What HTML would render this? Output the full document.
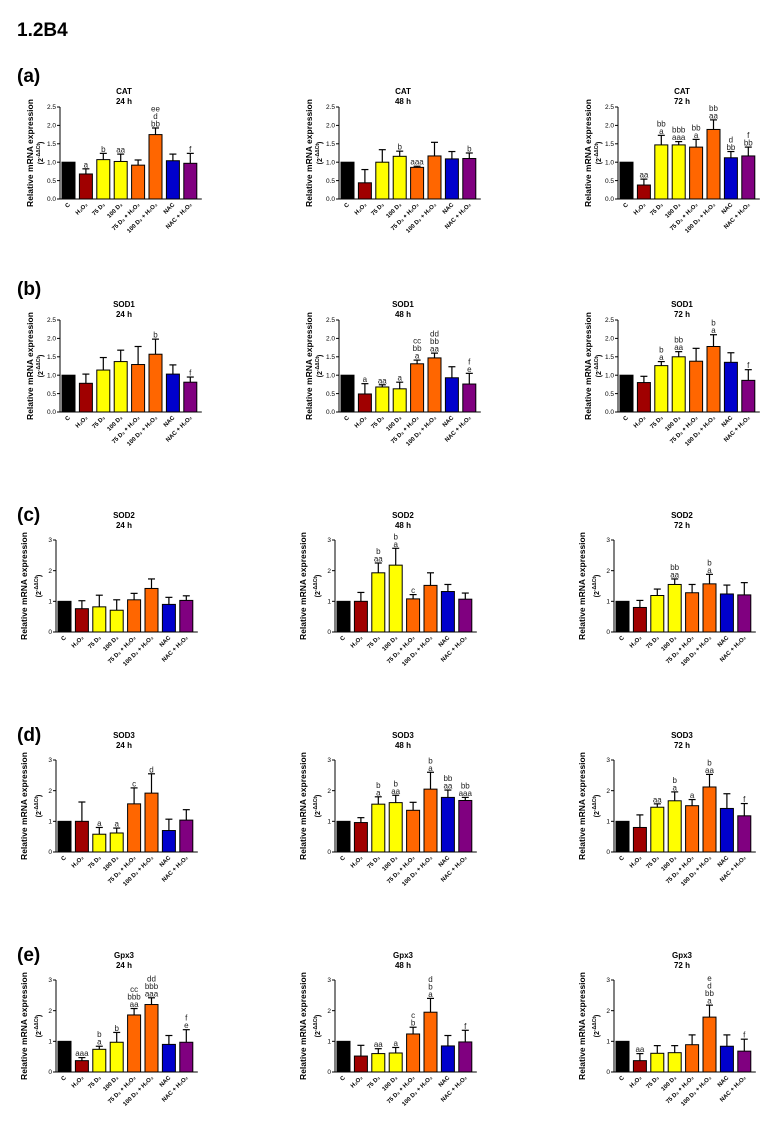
<!DOCTYPE html>
<html><head><meta charset="utf-8">
<style>
html,body{margin:0;padding:0;background:#fff;}
svg{display:block;font-family:"Liberation Sans",Arial,sans-serif;}
</style></head>
<body>
<svg id="fig" width="773" height="1137" viewBox="0 0 773 1137">
<text x="17" y="36" font-size="19" font-weight="bold">1.2B4</text>
</svg>
<script>
const groups = ["C","H₂O₂","75 D₃","100 D₃","75 D₃ + H₂O₂","100 D₃ + H₂O₂","NAC","NAC + H₂O₂"];
const colors = ["#000000","#a00000","#ffff00","#ffff00","#ff6600","#ff6600","#0000cc","#800080"];
const genes = ["CAT","SOD1","SOD2","SOD3","Gpx3"];
const times = ["24 h","48 h","72 h"];
const rowLetters = ["(a)","(b)","(c)","(d)","(e)"];
const ticks25 = ["0.0","0.5","1.0","1.5","2.0","2.5"];
const ticks3 = ["0","1","2","3"];
const vals_a24 = [1,0.68,1.07,1.02,0.92,1.75,1.04,0.97];
const err_a24 = [0,0.82,1.24,1.22,1.06,1.93,1.22,1.24];
const sig_a24 = ["","a","b","aa","","ee|d|bb","","f"];
const vals_a48 = [1,0.44,1,1.16,0.86,1.17,1.09,1.1];
const err_a48 = [0,0.8,1.34,1.3,0.89,1.54,1.29,1.25];
const sig_a48 = ["","","","b","aaa","","","b"];
const vals_a72 = [1,0.38,1.47,1.47,1.41,1.89,1.12,1.17];
const err_a72 = [0,0.54,1.73,1.56,1.62,2.15,1.29,1.41];
const sig_a72 = ["","aa","bb|a","bbb|aaa","bb|a","bb|aa","d|bb","f|bb"];
const vals_b24 = [1,0.78,1.14,1.37,1.29,1.57,1.03,0.81];
const err_b24 = [0,1.03,1.48,1.68,1.78,1.98,1.28,0.95];
const sig_b24 = ["","","","","","b","","f"];
const vals_b48 = [1,0.49,0.68,0.63,1.31,1.47,0.93,0.76];
const err_b48 = [0,0.77,0.74,0.81,1.41,1.6,1.23,1.05];
const sig_b48 = ["","a","aa","a","cc|bb|a","dd|bb|aa","","f|e"];
const vals_b72 = [1,0.8,1.26,1.5,1.38,1.78,1.35,0.86];
const err_b72 = [0,0.97,1.37,1.64,1.73,2.1,1.61,1.15];
const sig_b72 = ["","","b|a","bb|aa","","b|a","","f"];
const vals_c24 = [1,0.76,0.82,0.71,1.05,1.42,0.9,1.03];
const err_c24 = [0,1.02,1.2,1.05,1.26,1.73,1.13,1.18];
const sig_c24 = ["","","","","","","",""];
const vals_c48 = [1,1,1.93,2.18,1.08,1.52,1.32,1.07];
const err_c48 = [0,1.29,2.25,2.73,1.22,1.93,1.55,1.27];
const sig_c48 = ["","","b|aa","b|a","c","","",""];
const vals_c72 = [1,0.8,1.19,1.55,1.28,1.57,1.24,1.21];
const err_c72 = [0,1.03,1.4,1.73,1.55,1.88,1.53,1.61];
const sig_c72 = ["","","","bb|aa","","b|a","",""];
const vals_d24 = [1,1,0.58,0.62,1.57,1.92,0.7,1.04];
const err_d24 = [0,1.63,0.8,0.78,2.09,2.55,1.07,1.38];
const sig_d24 = ["","","a","a","c","d","",""];
const vals_d48 = [1,0.96,1.56,1.61,1.36,2.05,1.78,1.68];
const err_d48 = [0,1.12,1.8,1.85,1.62,2.6,2.02,1.78];
const sig_d48 = ["","","b|a","b|aa","","b|a","bb|aa","bb|aaa"];
const vals_d72 = [1,0.8,1.46,1.67,1.51,2.12,1.42,1.18];
const err_d72 = [0,1.21,1.57,1.96,1.71,2.53,1.9,1.58];
const sig_d72 = ["","","aa","b|a","a","b|aa","","f"];
const vals_e24 = [1,0.37,0.74,0.97,1.86,2.2,0.9,0.97];
const err_e24 = [0,0.47,0.84,1.29,2.07,2.42,1.19,1.38];
const sig_e24 = ["","aaa","b|a","b","cc|bbb|aa","dd|bbb|aaa","","f|e"];
const vals_e48 = [1,0.52,0.6,0.62,1.24,1.95,0.85,0.98];
const err_e48 = [0,0.87,0.76,0.8,1.46,2.4,1.19,1.36];
const sig_e48 = ["","","aa","a","c|b","d|b|a","","f"];
const vals_e72 = [1,0.37,0.61,0.63,0.89,1.79,0.84,0.68];
const err_e72 = [0,0.6,0.86,0.86,1.21,2.18,1.21,1.07];
const sig_e72 = ["","aa","","","","e|d|bb|a","","f"];

const panels = [
 [[vals_a24,err_a24,sig_a24],[vals_a48,err_a48,sig_a48],[vals_a72,err_a72,sig_a72]],
 [[vals_b24,err_b24,sig_b24],[vals_b48,err_b48,sig_b48],[vals_b72,err_b72,sig_b72]],
 [[vals_c24,err_c24,sig_c24],[vals_c48,err_c48,sig_c48],[vals_c72,err_c72,sig_c72]],
 [[vals_d24,err_d24,sig_d24],[vals_d48,err_d48,sig_d48],[vals_d72,err_d72,sig_d72]],
 [[vals_e24,err_e24,sig_e24],[vals_e48,err_e48,sig_e48],[vals_e72,err_e72,sig_e72]]
];

const NS = "http://www.w3.org/2000/svg";
const svg = document.getElementById("fig");
function mk(tag, attrs, parent, text){
  const e = document.createElementNS(NS, tag);
  for (const k in attrs) e.setAttribute(k, attrs[k]);
  if (text !== undefined) e.textContent = text;
  (parent||svg).appendChild(e);
  return e;
}
const colOff = [0,279,558];
const rowZero = [199,412,632,852,1072];

for (let r=0; r<5; r++){
  const letter = mk("text",{x:17,y:rowZero[r]-(r<2?117:111),"font-size":19,"font-weight":"bold"},svg,rowLetters[r]);
  
  
  for (let c=0; c<3; c++){
    const [vals, errs, sigs] = panels[r][c];
    const is25 = r<2;
    const ymax = is25 ? 2.5 : 3;
    const tks = is25 ? ticks25 : ticks3;
    const ox = colOff[c];
    const zero = rowZero[r];
    const H = 92;
    const top = zero - H;
    const axisX = ox + (is25 ? 60 : 56);
    const barStart = ox + (is25 ? 62 : 58);
    const bw = 13, pitch = 17.4;
    const yS = v => zero - v/ymax*H;
    const xS = i => barStart + i*pitch;
    const g = mk("g",{});
    
    
    const cx = ox + 124;
    const t1 = mk("text",{x:cx,y:top-(is25?13:22),"font-size":8,"font-weight":"bold","text-anchor":"middle"},g,genes[r]);
    
    
    const t2 = mk("text",{x:cx,y:top-(is25?3:12),"font-size":8,"font-weight":"bold","text-anchor":"middle"},g,times[c]);
    
    
    const lx = axisX - (is25?27:29), ly = zero - H/2;
    const yl = mk("text",{x:lx,y:ly,"font-size":8.5,"font-weight":"bold","text-anchor":"middle",transform:`rotate(-90 ${lx} ${ly})`},g,"Relative mRNA expression");
    
    
    const lx2 = lx + (is25?10:14);
    const yl2 = mk("text",{x:lx2,y:ly,"font-size":7,"font-weight":"bold","text-anchor":"middle",transform:`rotate(-90 ${lx2} ${ly})`},g);
    
    
    yl2.innerHTML = '(2<tspan dy="-3" font-size="5">-ΔΔCt</tspan><tspan dy="3">)</tspan>';
    const lastRight = xS(7)+bw+5;
    mk("line",{x1:axisX,y1:top,x2:axisX,y2:zero,stroke:"#000","stroke-width":1},g);
    mk("line",{x1:axisX,y1:zero,x2:lastRight,y2:zero,stroke:"#000","stroke-width":1},g);
    tks.forEach((tl,i)=>{
      const v = parseFloat(tl);
      const y = yS(v);
      mk("line",{x1:axisX-3,y1:y,x2:axisX,y2:y,stroke:"#000","stroke-width":1},g);
      const tt = mk("text",{x:axisX-4,y:y+2.2,"font-size":6.5,"text-anchor":"end"},g,tl);
      
      
    });
    vals.forEach((v,i)=>{
      const x = xS(i), bc = x + bw/2;
      if (errs[i] > v){
        mk("line",{x1:bc,y1:yS(v),x2:bc,y2:yS(errs[i]),stroke:"#000","stroke-width":1.2},g);
        mk("line",{x1:bc-3.5,y1:yS(errs[i]),x2:bc+3.5,y2:yS(errs[i]),stroke:"#000","stroke-width":1.2},g);
      }
      const b = mk("rect",{x:x,y:yS(v),width:bw,height:zero-yS(v),fill:colors[i],stroke:"#000","stroke-width":1},g);
      
      
      if (sigs[i]){
        const lines = sigs[i].split("|");
        const baseTop = yS(Math.max(errs[i],v)) - 1.5;
        lines.forEach((s,k)=>{
          const st = mk("text",{x:bc,y:baseTop-(lines.length-1-k)*7.5,"font-size":8,"text-anchor":"middle",fill:"#222"},g,s);
          
          
        });
      }
      const xl = bc+2, yl3 = zero+6;
      const xt = mk("text",{x:xl,y:yl3,"font-size":6,"font-weight":"bold","text-anchor":"end",transform:`rotate(-45 ${xl} ${yl3})`},g,groups[i]);
      
      
    });
  }
}
</script>
</body></html>
